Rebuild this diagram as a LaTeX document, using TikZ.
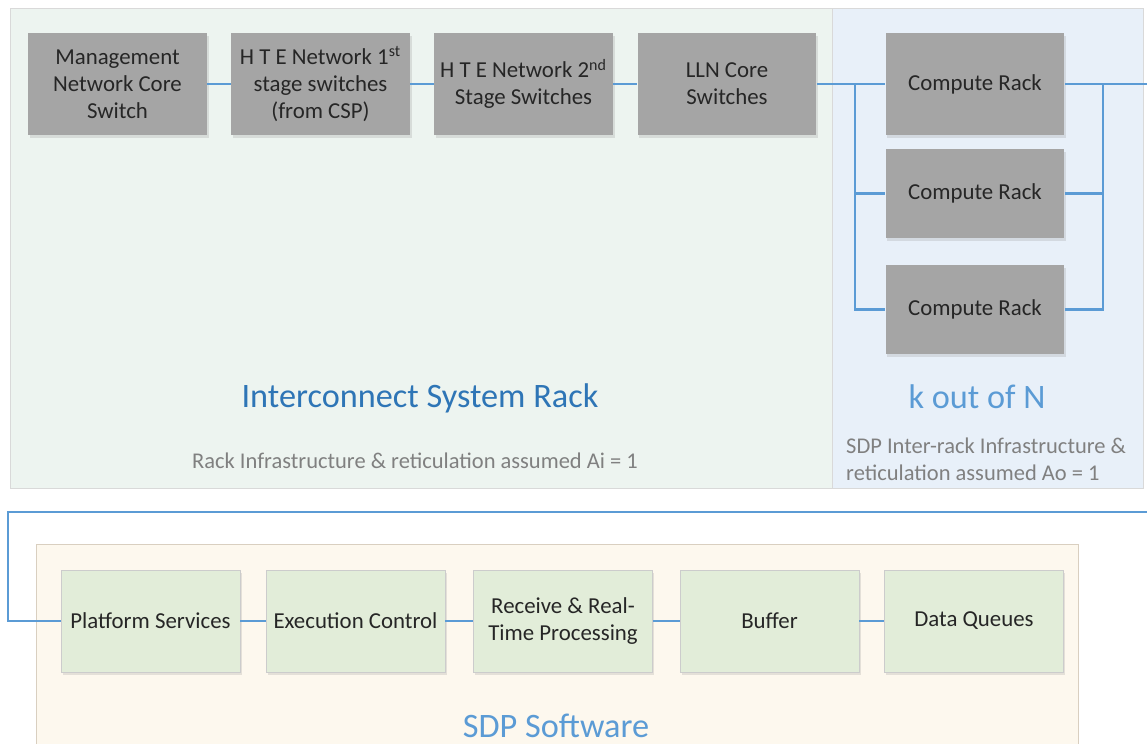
\documentclass[tikz,border=0pt]{standalone}
\usepackage{fontspec}
\setmainfont{Carlito}
\usetikzlibrary{shadows}
\definecolor{rackgray}{HTML}{A5A5A5}
\definecolor{linkblue}{HTML}{5B9BD5}
\definecolor{titleblue}{HTML}{2E75B6}
\definecolor{notegray}{HTML}{808080}
\definecolor{sysfill}{HTML}{EDF4F0}
\definecolor{interfill}{HTML}{E8F0F9}
\definecolor{swfill}{HTML}{FDF8EE}
\definecolor{swborder}{HTML}{D9CFC0}
\definecolor{modfill}{HTML}{E2EDD9}
\tikzset{
  hwbox/.style={rectangle, fill=rackgray, text=black!85, align=center,
    minimum width=3.58cm, minimum height=2.04cm, inner sep=2pt,
    font=\fontsize{13}{15.3}\selectfont,
    drop shadow={opacity=0.2, shadow xshift=1pt, shadow yshift=-1.5pt}},
  rackbox/.style={hwbox, minimum height=1.78cm},
  swbox/.style={hwbox, fill=modfill, draw=black!20},
  link/.style={draw=linkblue, line width=1.3pt},
  paneltitle/.style={text=titleblue, font=\fontsize{19.5}{23}\selectfont},
  panelnote/.style={text=notegray, font=\fontsize{12.8}{15.3}\selectfont}
}
\begin{document}
\begin{tikzpicture}[x=0.02cm, y=-0.02cm]
\useasboundingbox (0,0) rectangle (1147,744);
% panels
\draw[black!15, fill=sysfill] (10,8) rectangle (832,488);
\draw[black!15, fill=interfill] (832,8) rectangle (1143,488);
\draw[swborder, fill=swfill] (36,544) rectangle (1078,760);
% interconnect rack
\node[hwbox] (mgmt) at (117.5,84) {Management\\Network Core\\Switch};
\node[hwbox] (hte1) at (320.5,84) {H T E Network 1\textsuperscript{st}\\stage switches\\(from CSP)};
\node[hwbox] (hte2) at (523.5,84) {H T E Network 2\textsuperscript{nd}\\Stage Switches};
\node[hwbox] (lln) at (727,84) {LLN Core\\Switches};
\node[paneltitle] (systitle) at (420,398) {Interconnect System Rack};
\node[panelnote] (sysnote) at (415,461) {Rack Infrastructure \& reticulation assumed Ai = 1};
% k out of N
\node[hwbox] (cr1) at (975,84) {Compute Rack};
\node[rackbox] (cr2) at (975,193.5) {Compute Rack};
\node[rackbox] (cr3) at (975,309.5) {Compute Rack};
\node[paneltitle, text=linkblue] (ktitle) at (977,397) {k out of N};
\node[panelnote, align=left, anchor=west] (knote) at (840,459)
  {SDP Inter-rack Infrastructure \&\\reticulation assumed Ao = 1};
% software
\node[swbox] (plat) at (150.5,621) {Platform Services};
\node[swbox] (exec) at (355.5,621) {Execution Control};
\node[swbox] (recv) at (563,621) {Receive \& Real-\\Time Processing};
\node[swbox] (buf) at (769.5,621) {Buffer};
\node[swbox] (queue) at (974,621) {Data Queues};
\node[paneltitle, text=linkblue] (swtitle) at (556,726) {SDP Software};
% links
\coordinate (busL) at (855,84);
\coordinate (busR) at (1103,84);
\coordinate (exitR) at (1147,84);
\coordinate (loopR) at (1147,512);
\coordinate (loopL) at (8,512);
\draw[link] (mgmt) -- (hte1);
\draw[link] (hte1) -- (hte2);
\draw[link] (hte2) -- (lln);
\draw[link] (lln) -- (cr1);
\draw[link] (busL) |- (cr2.west);
\draw[link] (busL) |- (cr3.west);
\draw[link] (cr1) -- (exitR);
\draw[link] (cr2.east) -| (busR);
\draw[link] (cr3.east) -| (busR);
\draw[link] (loopR) -- (loopL) |- (plat.west);
\draw[link] (plat) -- (exec);
\draw[link] (exec) -- (recv);
\draw[link] (recv) -- (buf);
\draw[link] (buf) -- (queue);
\end{tikzpicture}
\end{document}
